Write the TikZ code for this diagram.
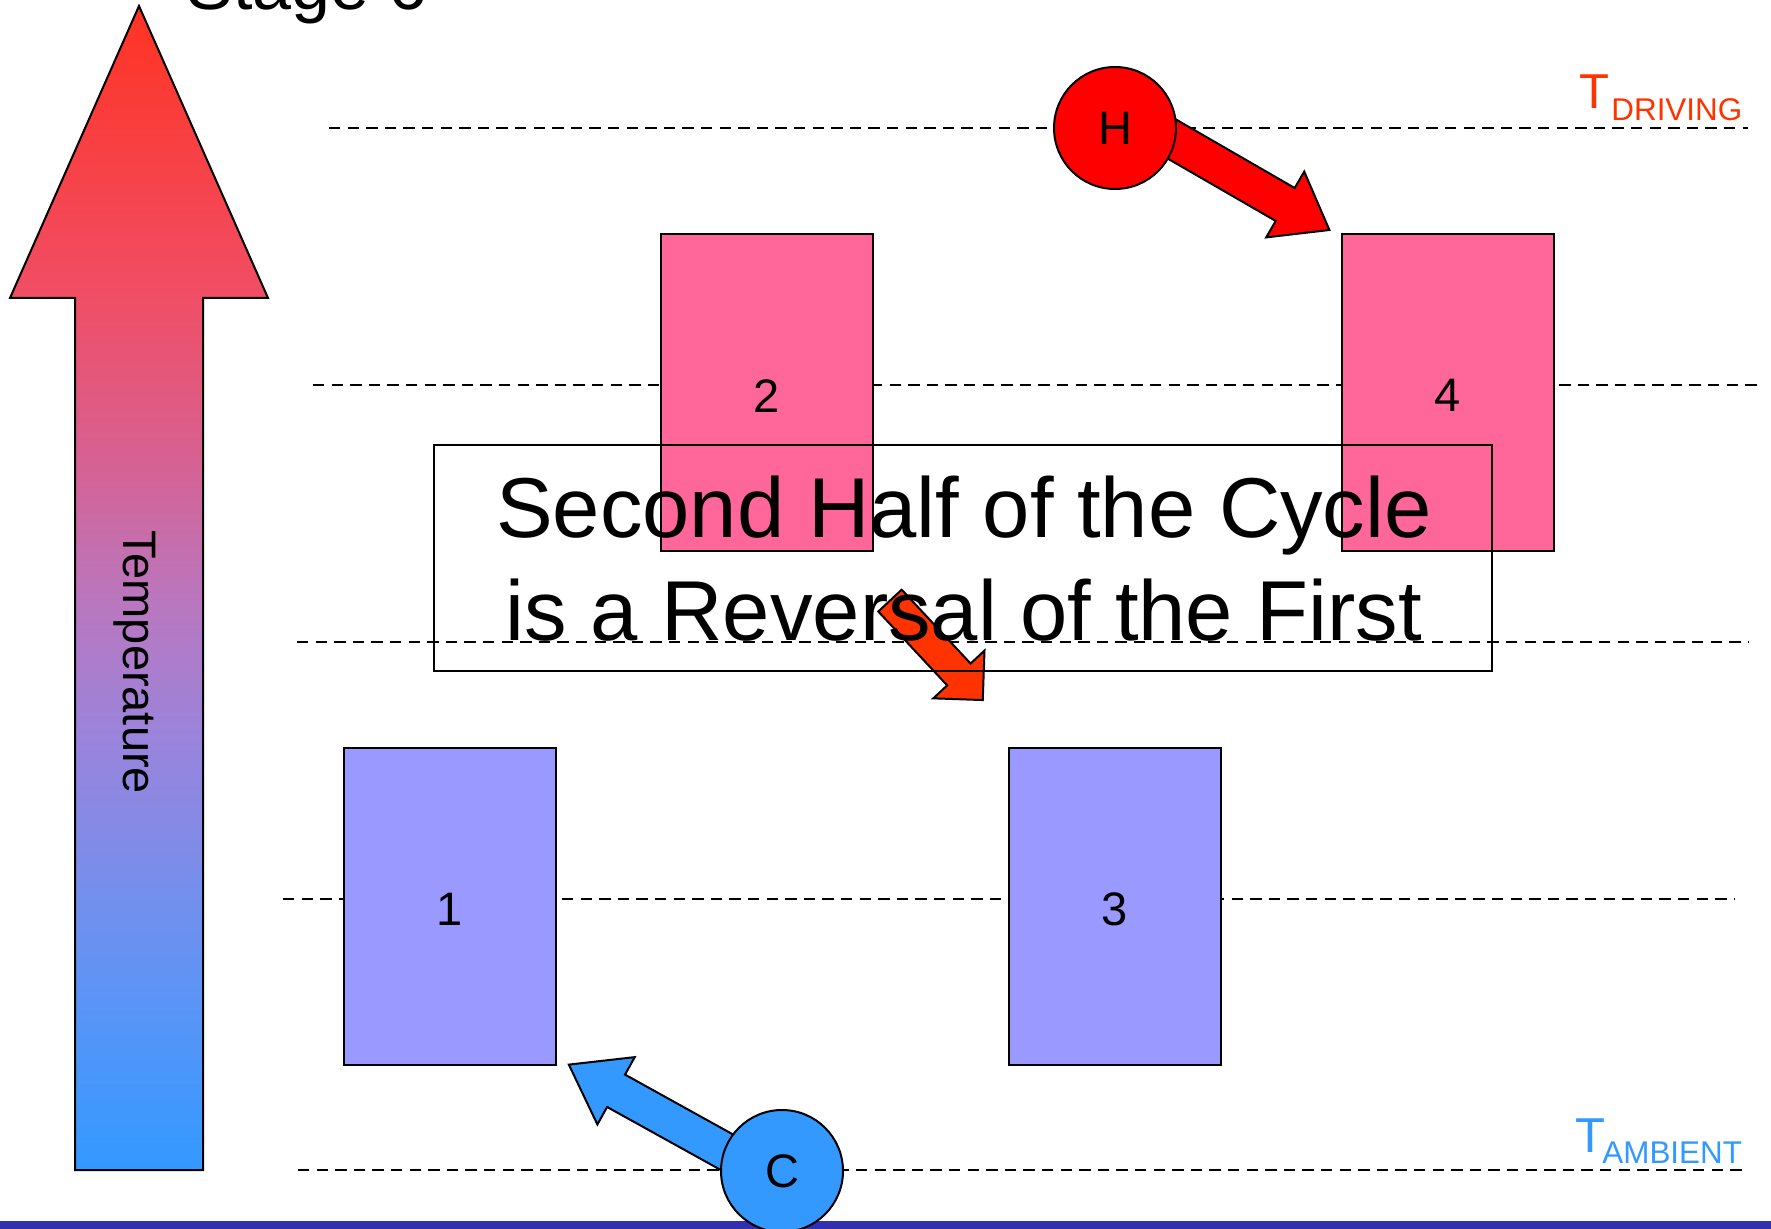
\documentclass[tikz,border=0pt]{standalone}
\usepackage{fontspec}
\setmainfont{Liberation Sans}
\definecolor{cT}{HTML}{FF3322}
\definecolor{c6}{HTML}{F04E66}
\definecolor{c5}{HTML}{D86090}
\definecolor{c4}{HTML}{B878C0}
\definecolor{c3}{HTML}{9A84DC}
\definecolor{c2}{HTML}{7090EE}
\definecolor{c1}{HTML}{5595F8}
\definecolor{cB}{HTML}{3399FF}
\definecolor{hotbox}{HTML}{FF6699}
\definecolor{coldbox}{HTML}{9999FF}
\definecolor{hotred}{HTML}{FF0000}
\definecolor{coldblue}{HTML}{3399FF}
\definecolor{midarrow}{HTML}{FF3300}
\definecolor{drivecol}{HTML}{FF3300}
\definecolor{barblue}{HTML}{3030B0}
\pgfdeclareverticalshading{tempshade}{100bp}{color(0bp)=(cB); color(25bp)=(cB); color(31.2bp)=(c1); color(36.1bp)=(c2); color(43.5bp)=(c3); color(49.1bp)=(c4); color(55.8bp)=(c5); color(62.5bp)=(c6); color(75bp)=(cT); color(100bp)=(cT)}
\newcommand{\blockarr}[7]{%
  \begin{scope}[shift={#1}, rotate=#2]
    \draw[fill=#7, line width=1pt, line join=miter] (0,-#4/2) -- ({#3-#6},-#4/2) -- ({#3-#6},-#5/2) -- (#3,0) -- ({#3-#6},#5/2) -- ({#3-#6},#4/2) -- (0,#4/2) -- cycle;
  \end{scope}}
\newcommand{\dn}[1]{\raisebox{-1.6pt}[\height][0pt]{#1}}
\begin{document}
\begin{tikzpicture}[x=0.5pt, y=-0.5pt,
  lvl/.style={dash pattern=on 5.7pt off 3.6pt, line width=1.15pt},
  unit/.style={draw, line width=1pt, minimum width=106pt, minimum height=158.5pt, inner sep=0pt,
    font=\fontsize{23.5}{28}\selectfont},
  bath/.style={draw, circle, line width=1pt, minimum size=61pt, inner sep=0pt,
    font=\fontsize{23.5}{28}\selectfont},
  bigT/.style={anchor=base west, inner sep=0pt, font=\fontsize{24.5}{29}\selectfont},
  subT/.style={anchor=base west, inner sep=0pt, font=\fontsize{15.7}{19}\selectfont},
  msgtext/.style={anchor=base, inner sep=0pt, font=\fontsize{42.5}{51}\selectfont}]
\useasboundingbox (0,0) rectangle (1771,1229);
% title (cut off at top)
\node[anchor=base west, inner sep=0pt, font=\fontsize{35}{42}\selectfont] (title) at (186,10) {Stage 6};
% temperature arrow
\draw[shade, shading=tempshade, line width=1pt, line join=miter]
  (139,6) -- (268,298) -- (203,298) -- (203,1170) -- (75,1170) -- (75,298) -- (10,298) -- cycle;
\node[rotate=-90, anchor=base, inner sep=0pt, font=\fontsize{23.5}{28}\selectfont] (templbl) at (123,662) {Temperature};
% dashed level lines
\coordinate (l1a) at (329,128);  \coordinate (l1b) at (1748,128);
\coordinate (l2a) at (313,385);  \coordinate (l2b) at (1762,385);
\coordinate (l3a) at (297,642);  \coordinate (l3b) at (1748,642);
\coordinate (l4a) at (283,899);  \coordinate (l4b) at (1734,899);
\coordinate (l5a) at (298,1170); \coordinate (l5b) at (1748,1170);
\draw[lvl] (l1a) -- (l1b);
\draw[lvl] (l2a) -- (l2b);
\draw[lvl] (l3a) -- (l3b);
\draw[lvl] (l4a) -- (l4b);
\draw[lvl] (l5a) -- (l5b);
% labels
\node[bigT, text=drivecol] (Td) at (1579,109) {T};
\node[subT, text=drivecol] (Tds) at (1611,121) {DRIVING};
\node[bigT, text=coldblue] (Ta) at (1575,1152) {T};
\node[subT, text=coldblue] (Tas) at (1602,1163) {AMBIENT};
% bottom bar
\fill[barblue] (0,1221) rectangle (1771,1229);
% boxes
\node[unit, fill=hotbox] (b2) at (767,392.5) {\dn{2}};
\node[unit, fill=hotbox] (b4) at (1447.5,392.5) {\dn{4}};
\node[unit, fill=coldbox] (b1) at (449.5,906) {\dn{1}};
\node[unit, fill=coldbox] (b3) at (1114.5,906) {\dn{3}};
% heat arrows
\coordinate (Htail) at (1125,112);
\coordinate (Ctail) at (777,1180);
\coordinate (Mtail) at (890,600.6);
\blockarr{(Htail)}{-30}{236}{38}{76}{51}{hotred}
\blockarr{(Ctail)}{151}{238}{37}{77}{54}{coldblue}
\node[bath, fill=hotred] (H) at (1115,128) {H};
\node[bath, fill=coldblue] (C) at (782,1171) {C};
\blockarr{(Mtail)}{-47}{136}{32}{70}{35}{midarrow}
% message box
\node[draw, line width=1pt, minimum width=529pt, minimum height=113pt, inner sep=0pt] (msg) at (963,558) {};
\node[msgtext] (m1) at (964,538) {Second Half of the Cycle};
\node[msgtext] (m2) at (964,640) {is a Reversal of the First};
\end{tikzpicture}
\end{document}
